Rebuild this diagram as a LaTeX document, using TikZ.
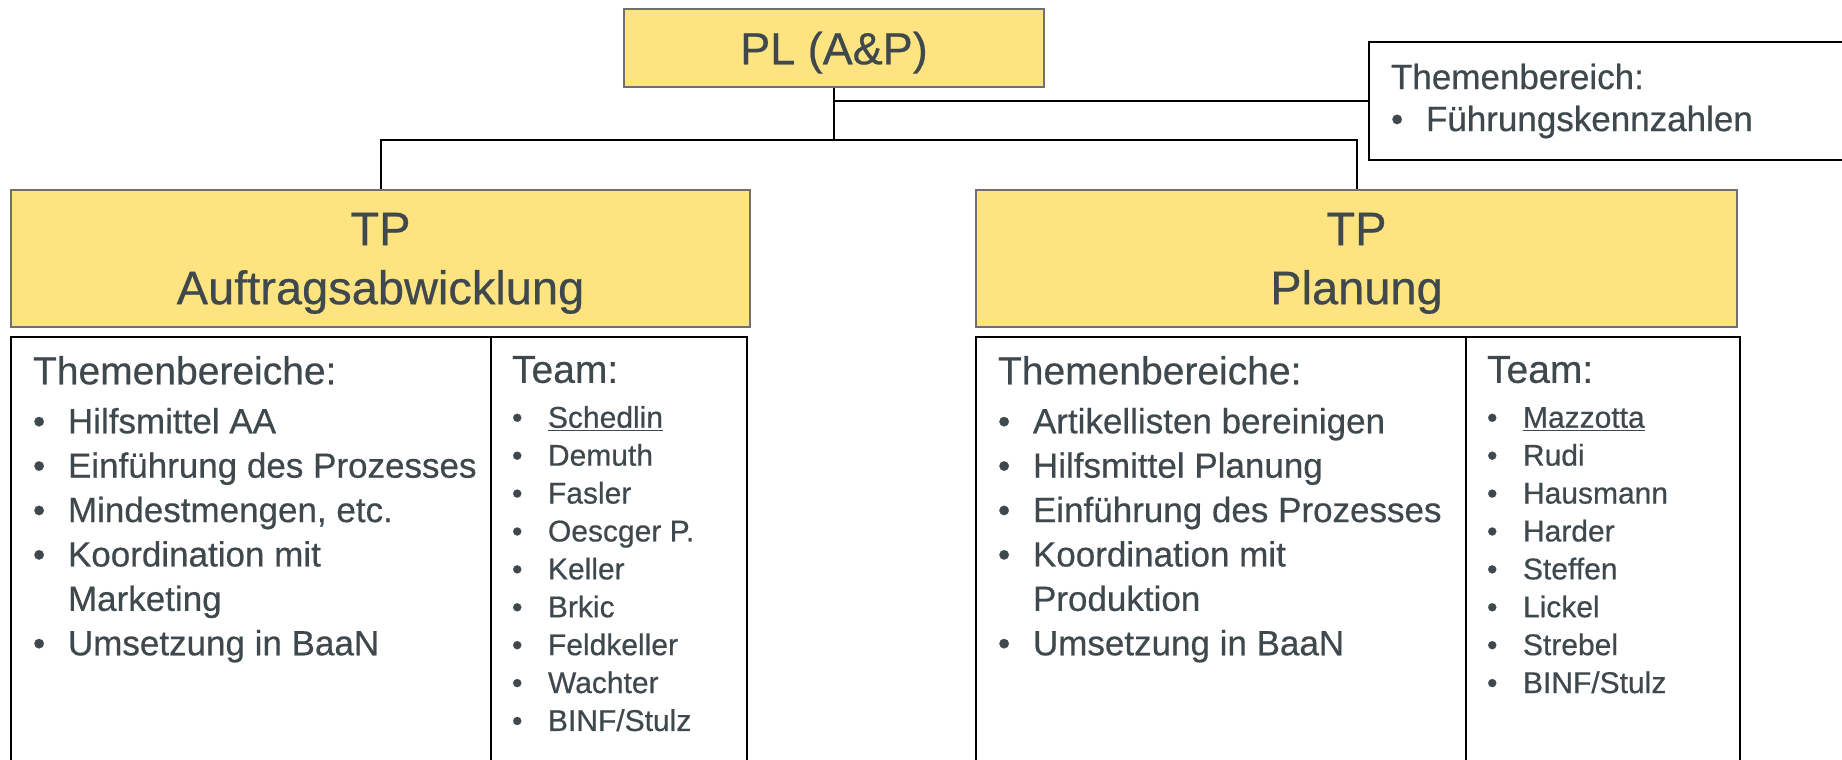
\documentclass[tikz,border=0pt]{standalone}
\usepackage{fontspec}
\setmainfont{Liberation Sans}[FakeBold=0.5]
\usetikzlibrary{positioning}

\definecolor{boxyellow}{RGB}{254,228,128}
\definecolor{boxgray}{RGB}{112,112,112}
\definecolor{textgray}{RGB}{62,72,77}

\newcommand{\itm}{\makebox[17.5pt][l]{\textbullet}}
\newcommand{\tmitm}{\makebox[18pt][l]{\textbullet}}

\begin{document}
\begin{tikzpicture}[x=1pt,y=1pt,line width=1pt,text=textgray,
	tpbox/.style={draw=boxgray,fill=boxyellow,inner sep=0,align=center,text depth=0pt},
	panel/.style={draw=black,inner sep=0,outer sep=0,minimum height=221.5pt},
	listtext/.style={inner sep=0,align=left,font=\fontsize{17.5}{22.2}\selectfont},
	teamtext/.style={inner sep=0,align=left,font=\fontsize{15}{18.95}\selectfont}]
		
		\useasboundingbox (0,0) rectangle (921,-380);
		
		\node[tpbox,
		minimum width=210pt,
		minimum height=39pt,
		font=\fontsize{22.5}{27}\selectfont] (block1) at (417,-24) {PL (A\&P)};
		
		\node[draw=black,
		anchor=west,
		align=left,
		text width=224pt,
		inner xsep=11pt,
		minimum height=59pt,
		font=\fontsize{17.5}{21}\selectfont] (block2) at (684,-50.5)
		{Themenbereich:\\ \itm Führungskennzahlen};
		
		\node[tpbox,
		minimum width=369.5pt,
		minimum height=68.5pt,
		text depth=-2pt,
		font=\fontsize{23.5}{29.5}\selectfont] (block3) at (190.25,-129.25)
		{TP\\Auftragsabwicklung};
		
		\node[tpbox,
		minimum width=380.5pt,
		minimum height=68.5pt,
		text depth=-2pt,
		font=\fontsize{23.5}{29.5}\selectfont] (block4) at (678.25,-129.25)
		{TP\\Planung};
		
		% Panels below the TP boxes
		\node[panel,
		anchor=north west,
		minimum width=240pt] (block5) at (5.5,-168.5) {};
		\node[panel,
		right=0pt of block5,
		minimum width=128pt] (block6) {};
		
		\node[panel,
		anchor=north west,
		minimum width=245pt] (block7) at (488,-168.5) {};
		\node[panel,
		right=0pt of block7,
		minimum width=137pt] (block8) {};
		
		% Texts
		\node[listtext,
		below right=9pt and 10.5pt of block5.north west] (text5)
		{{\fontsize{19.5}{22.2}\selectfont Themenbereiche:}\\[2.3pt]
		\itm Hilfsmittel AA\\
		\itm Einführung des Prozesses\\
		\itm Mindestmengen, etc.\\
		\itm Koordination mit\\
		\hspace*{17.5pt}Marketing\\
		\itm Umsetzung in BaaN};
		
		\node[teamtext,
		below right=9pt and 10pt of block6.north west] (text6)
		{{\fontsize{19.5}{18.95}\selectfont Team:}\\[3.5pt]
		\tmitm \underline{Schedlin}\\
		\tmitm Demuth\\
		\tmitm Fasler\\
		\tmitm Oescger P.\\
		\tmitm Keller\\
		\tmitm Brkic\\
		\tmitm Feldkeller\\
		\tmitm Wachter\\
		\tmitm BINF/Stulz};
		
		\node[listtext,
		below right=9pt and 10.5pt of block7.north west] (text7)
		{{\fontsize{19.5}{22.2}\selectfont Themenbereiche:}\\[2.3pt]
		\itm Artikellisten bereinigen\\
		\itm Hilfsmittel Planung\\
		\itm Einführung des Prozesses\\
		\itm Koordination mit\\
		\hspace*{17.5pt}Produktion\\
		\itm Umsetzung in BaaN};
		
		\node[teamtext,
		below right=9pt and 10pt of block8.north west] (text8)
		{{\fontsize{19.5}{18.95}\selectfont Team:}\\[3.5pt]
		\tmitm \underline{Mazzotta}\\
		\tmitm Rudi\\
		\tmitm Hausmann\\
		\tmitm Harder\\
		\tmitm Steffen\\
		\tmitm Lickel\\
		\tmitm Strebel\\
		\tmitm BINF/Stulz};
		
		% Lines
		\coordinate[below=26pt of block1.south] (bus);
		
		\draw (block2.west) -| (block1.south);
		\draw (block1.south) -- (bus) -| (block3.north);
		\draw (bus) -| (block4.north);
		
\end{tikzpicture}
\end{document}
